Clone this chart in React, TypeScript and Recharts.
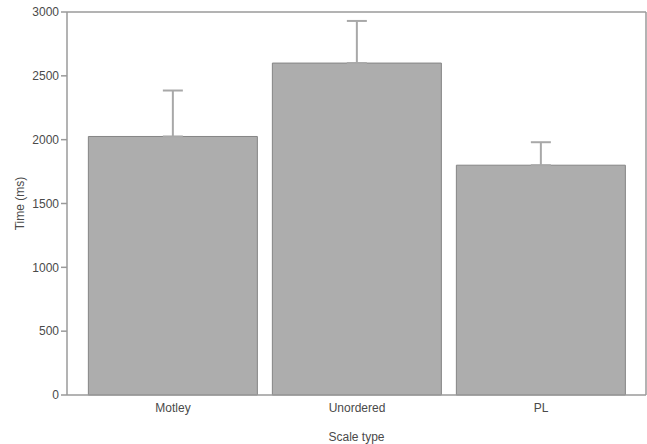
import { BarChart, Bar, XAxis, YAxis, ErrorBar } from "recharts";

const scaleTypes = ["Motley", "Unordered", "PL"];
const meanTimes = [2025, 2600, 1800];
const upperErrors = [360, 330, 180];
const timeTicks = [0, 500, 1000, 1500, 2000, 2500, 3000];

const INK = "#4a4a4a";
const AXIS = "#9a9a9a";
const FONT = "'Liberation Sans', Arial, sans-serif";

const rows = scaleTypes.map((name, i) => ({
  name,
  time: meanTimes[i],
  // only the upper whisker is drawn in the original
  err: [0, upperErrors[i]],
}));

function TimeLabel({ viewBox }: any) {
  const cy = viewBox.y + viewBox.height / 2;
  return (
    <text
      x={20}
      y={cy}
      transform={`rotate(-90, 20, ${cy})`}
      textAnchor="middle"
      dominantBaseline="central"
      fill={INK}
      fontSize={12}
      fontFamily={FONT}
    >
      Time (ms)
    </text>
  );
}

export default function App() {
  return (
    <div style={{ position: "absolute", left: 0, top: 0 }}>
      <style>{"body{margin:0}"}</style>
      <BarChart
        width={647}
        height={444}
        data={rows}
        margin={{ top: 10, right: 0, bottom: 0, left: 0 }}
        barCategoryGap="4%"
      >
        <XAxis
          dataKey="name"
          height={49}
          padding={{ left: 14, right: 13 }}
          tickLine={false}
          axisLine={{ stroke: AXIS, strokeWidth: 1.5 }}
          tick={{ fill: INK, fontSize: 12, fontFamily: FONT }}
          label={{
            value: "Scale type",
            position: "insideBottom",
            offset: 3,
            fill: INK,
            fontSize: 12,
            fontFamily: FONT,
          }}
        />
        <XAxis
          xAxisId="top"
          orientation="top"
          dataKey="name"
          height={2}
          tick={false}
          tickLine={false}
          axisLine={{ stroke: AXIS, strokeWidth: 1.5 }}
        />
        <YAxis
          width={67}
          domain={[0, 3000]}
          ticks={timeTicks}
          interval={0}
          tickSize={6}
          tickLine={{ stroke: AXIS, strokeWidth: 1.5 }}
          axisLine={{ stroke: AXIS, strokeWidth: 1.5 }}
          tick={{ fill: INK, fontSize: 12, fontFamily: FONT }}
          label={<TimeLabel />}
        />
        <YAxis
          yAxisId="right"
          orientation="right"
          width={1}
          domain={[0, 3000]}
          tick={false}
          tickLine={false}
          axisLine={{ stroke: AXIS, strokeWidth: 1.5 }}
        />
        <Bar
          dataKey="time"
          fill="#adadad"
          stroke="#858585"
          strokeWidth={1}
          isAnimationActive={false}
        >
          <ErrorBar
            dataKey="err"
            width={10}
            stroke="#a8a8a8"
            strokeWidth={2}
            direction="y"
            isAnimationActive={false}
          />
        </Bar>
      </BarChart>
    </div>
  );
}
